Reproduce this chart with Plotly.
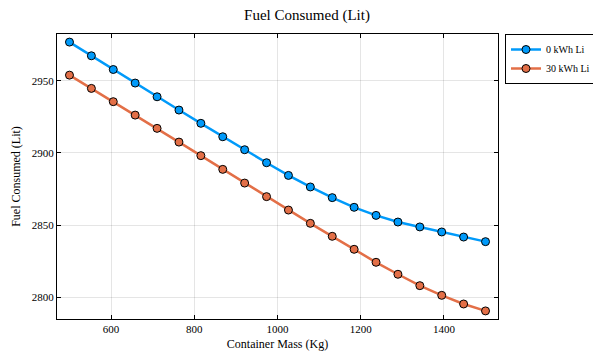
import numpy as np
import plotly.graph_objects as go

container_mass = list(np.linspace(500, 1500, 20))
fuel_0kwh = [2976.8, 2967.3, 2957.8, 2948.4, 2938.9, 2929.7, 2920.5, 2911.2, 2902.2, 2893.2,
             2884.4, 2876.4, 2869.0, 2862.3, 2856.7, 2852.1, 2848.7, 2845.2, 2841.7, 2838.5]
fuel_30kwh = [2953.9, 2944.7, 2935.5, 2926.2, 2917.0, 2907.5, 2898.1, 2888.6, 2879.1, 2869.7,
              2860.4, 2851.2, 2842.2, 2833.2, 2824.2, 2815.9, 2808.0, 2801.3, 2795.3, 2790.5]
series_names = ["0 kWh Li", "30 kWh Li"]
colors = ["#009AFA", "#E36F47"]
x_ticks = [600, 800, 1000, 1200, 1400]
y_ticks = [2800, 2850, 2900, 2950]

FONT = "Liberation Serif"

fig = go.Figure()
for name, vals, c in zip(series_names, [fuel_0kwh, fuel_30kwh], colors):
    fig.add_trace(go.Scatter(
        x=container_mass, y=vals, name=name, mode="lines+markers",
        line=dict(color=c, width=2.5),
        marker=dict(color=c, size=8, line=dict(color="black", width=1)),
    ))

axis_common = dict(
    showline=True, linecolor="black", linewidth=1, mirror="allticks",
    ticks="inside", ticklen=4, tickcolor="black", tickwidth=1,
    showgrid=True, gridcolor="rgba(0,0,0,0.1)", gridwidth=1,
    zeroline=False, tickfont=dict(family=FONT, size=11, color="black"),
    automargin=False,
)

fig.update_layout(
    width=593, height=358,
    margin=dict(l=57, r=95, t=34, b=39, autoexpand=False),
    paper_bgcolor="white", plot_bgcolor="white",
    font=dict(family=FONT, color="black"),
    title=dict(text="Fuel Consumed (Lit)", x=307/593, xanchor="center",
               y=1 - 15/358, yanchor="middle", yref="container",
               font=dict(family=FONT, size=15, color="black")),
    xaxis=dict(range=[470, 1530], tickvals=x_ticks,
               title=dict(text="Container Mass (Kg)", font=dict(family=FONT, size=12), standoff=5),
               **axis_common),
    yaxis=dict(range=[2784.9, 2982.4], tickvals=y_ticks,
               title=dict(text="Fuel Consumed (Lit)", font=dict(family=FONT, size=12), standoff=8),
               **axis_common),
    legend=dict(xref="container", yref="container",
                x=505/593, y=1 - 34/358, xanchor="left", yanchor="top",
                bordercolor="black", borderwidth=1, bgcolor="white",
                font=dict(family=FONT, size=10), tracegroupgap=0,
                itemwidth=30),
    showlegend=True,
)

fig.write_html("out.html", config={"displayModeBar": False},
               post_script="document.body.style.margin='0';document.body.style.padding='0';")
